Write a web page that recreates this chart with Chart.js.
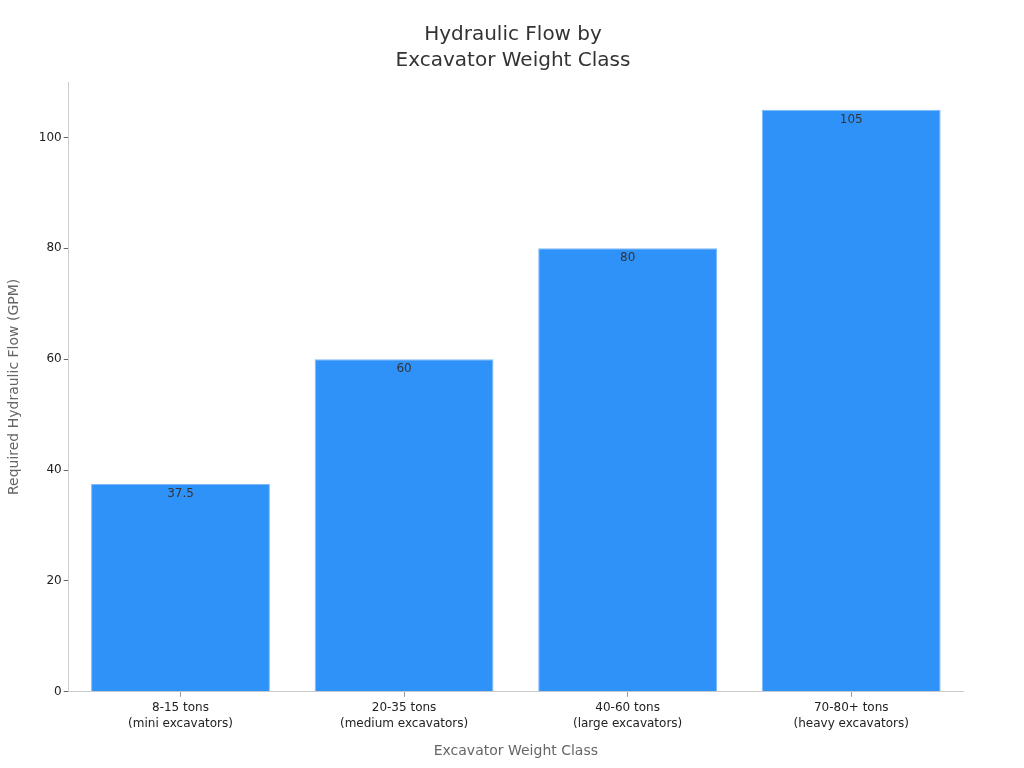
<!DOCTYPE html>
<html><head><meta charset="utf-8">
<script src="https://cdn.jsdelivr.net/npm/chart.js@4.4.1/dist/chart.umd.min.js"></script>
<style>html,body{margin:0;padding:0;background:#fff}#wrap{width:1024px;height:768px}</style>
</head><body><div id="wrap"><canvas id="c" width="1024" height="768"></canvas></div>
<script>
const categories = [["8-15 tons","(mini excavators)"],["20-35 tons","(medium excavators)"],["40-60 tons","(large excavators)"],["70-80+ tons","(heavy excavators)"]];
const flowValues = [37.5, 60, 80, 105];
const valueLabels = ["37.5","60","80","105"];
const yTicks = [0,20,40,60,80,100];

const labelPlugin = {
  id:'vlabels',
  afterDatasetsDraw(chart){
    const ctx = chart.ctx;
    const meta = chart.getDatasetMeta(0);
    ctx.save();
    ctx.font = '12px "DejaVu Sans"';
    ctx.fillStyle = '#333333';
    ctx.textAlign = 'center';
    ctx.textBaseline = 'top';
    meta.data.forEach((bar,i)=>{
      ctx.fillText(valueLabels[i], bar.x, bar.y + 4);
    });
    ctx.restore();
  }
};

Chart.defaults.font.family = '"DejaVu Sans", sans-serif';
new Chart(document.getElementById('c'), {
  type:'bar',
  data:{labels:categories, datasets:[{data:flowValues, backgroundColor:'#2F92F8', borderColor:'#7FBAF8', borderWidth:1, categoryPercentage:1.0, barPercentage:0.8}]},
  options:{
    responsive:false, animation:false,
    layout:{padding:{left:2,right:0,top:8,bottom:4}},
    plugins:{
      legend:{display:false}, tooltip:{enabled:false},
      title:{display:true, text:['Hydraulic Flow by','Excavator Weight Class'], color:'#333333', font:{size:20, weight:'normal', lineHeight:1.3}, padding:{top:14,bottom:8}}
    },
    scales:{
      x:{
        grid:{display:true, offset:false, drawOnChartArea:false, drawTicks:true, tickLength:5, tickColor:'#999999'},
        border:{color:'#cccccc'},
        ticks:{color:'#222222', font:{size:12, lineHeight:1.35}, padding:3},
        title:{display:true, text:'Excavator Weight Class', color:'#666666', font:{size:14}, padding:{top:8}}
      },
      y:{
        min:0, max:110,
        afterBuildTicks(scale){ scale.ticks = yTicks.map(v=>({value:v})); },
        grid:{display:true, drawOnChartArea:false, drawTicks:true, tickLength:5, tickColor:'#666666'},
        border:{color:'#cccccc'},
        ticks:{color:'#222222', font:{size:12}, padding:2},
        title:{display:true, text:'Required Hydraulic Flow (GPM)', color:'#666666', font:{size:14}, padding:{bottom:14}}
      },
      yr:{
        position:'right', display:true,
        grid:{display:false}, border:{display:false},
        ticks:{display:false},
        afterFit(scale){ scale.width = 61; }
      }
    }
  },
  plugins:[labelPlugin]
});
</script></body></html>
